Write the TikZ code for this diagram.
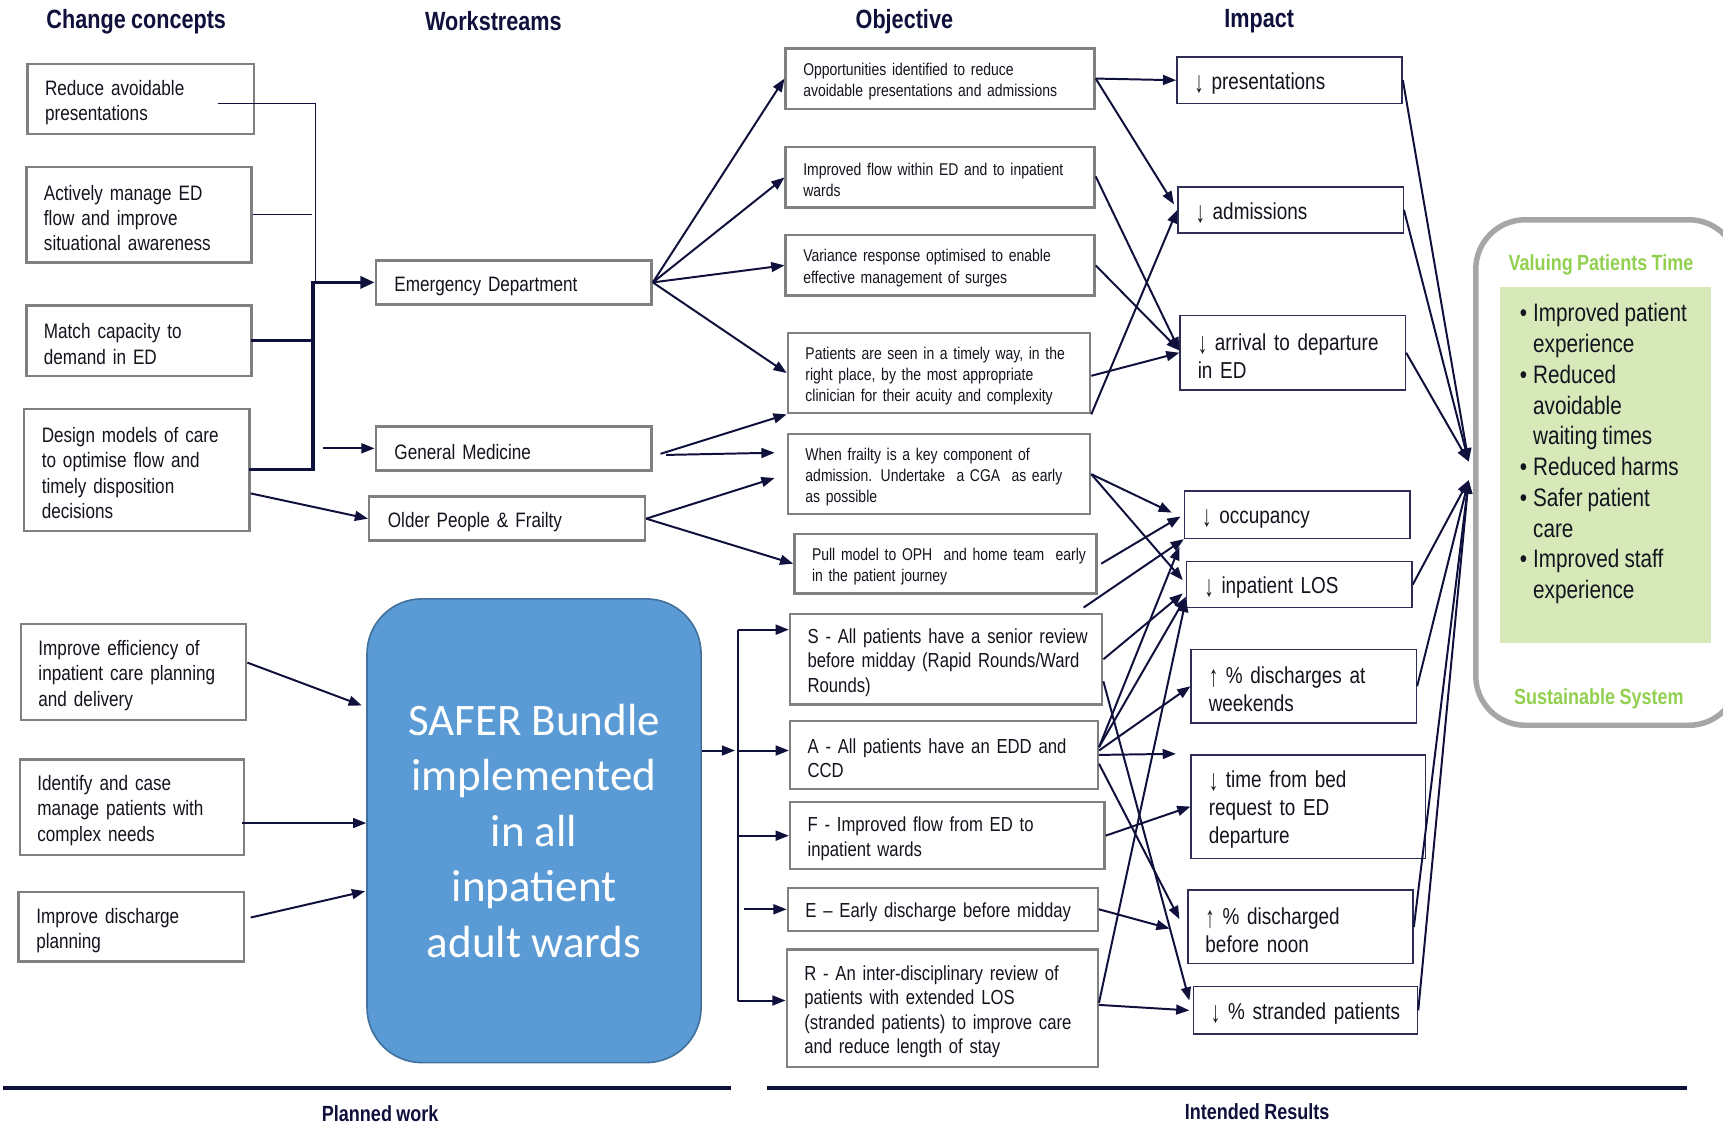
\documentclass[tikz,border=0pt]{standalone}
\usepackage{fontspec}
\usepackage{graphicx}
\setmainfont{Liberation Sans}[FakeStretch=0.82, WordSpace=0.88]
\newfontfamily\calfont{Carlito}
\usetikzlibrary{arrows.meta,calc}
\definecolor{navy}{RGB}{16,16,60}
\definecolor{boxgray}{RGB}{128,128,128}
\definecolor{impborder}{RGB}{45,45,85}
\definecolor{saferfill}{RGB}{91,155,213}
\definecolor{saferedge}{RGB}{65,113,156}
\definecolor{outgray}{RGB}{166,166,166}
\definecolor{greenfill}{RGB}{215,232,185}
\definecolor{greentext}{RGB}{146,208,80}
\definecolor{txt}{RGB}{20,20,30}
\newcommand\dnarr{\raisebox{-0.12em}{\scalebox{1}[1.3]{↓}}}
\newcommand\uparr{\raisebox{-0.12em}{\scalebox{1}[1.3]{↑}}}
\begin{document}
\begin{tikzpicture}[x=1pt,y=-1pt,
  cbox/.style={draw=boxgray, line width=2.2pt, align=left, inner xsep=16pt, inner ysep=0pt, text=txt, font=\fontsize{19}{23}\selectfont, execute at begin node={\rule{0pt}{1.05em}}},
  wbox/.style={cbox, inner xsep=17pt},
  obox/.style={cbox, font=\fontsize{15.5}{19.3}\selectfont},
  sbox/.style={cbox, font=\fontsize{18.5}{22.3}\selectfont},
  ibox/.style={draw=impborder, line width=1.3pt, align=left, inner xsep=16pt, inner ysep=0pt, text=txt, font=\fontsize{21}{25.5}\selectfont, execute at begin node={\rule{0pt}{1.0em}}},
  hdr/.style={font=\bfseries\fontsize{24}{28}\selectfont, text=navy, inner sep=0pt},
  ftr/.style={font=\bfseries\fontsize{20}{24}\selectfont, text=navy, inner sep=0pt},
  conn/.style={draw=navy, line width=1.8pt, -{Triangle[length=12pt,width=9pt]}},
  thinl/.style={draw=navy, line width=1pt},
  thickl/.style={draw=navy, line width=3pt, line cap=rect},
]
\useasboundingbox (0,0) rectangle (1568,1025);
\clip (0,0) rectangle (1568,1025);
\fill[white] (0,0) rectangle (1568,1025);

% headers
\node[hdr] (h1) at (124,19.5) {Change concepts};
\node[hdr] (h2) at (449,19.5) {Workstreams};
\node[hdr] (h3) at (823,19.5) {Objective};
\node[hdr] (h4) at (1146,19.5) {Impact};
\node[ftr] (f1) at (346,1013) {Planned work};
\node[ftr] (f2) at (1144,1012) {Intended Results};
\draw[line width=3pt, navy] (3,990) -- (665,990);
\draw[line width=3pt, navy] (698,990) -- (1535,990);

% change concepts
\node[cbox, text width=174pt, minimum height=64pt] (c1) at (128,90) {Reduce avoidable\\presentations};
\node[cbox, text width=173pt, minimum height=87pt] (c2) at (126.5,195.5) {Actively manage ED\\flow and improve\\situational awareness};
\node[cbox, text width=173pt, minimum height=64pt] (c3) at (126.5,310) {Match capacity to\\demand in ED};
\node[cbox, text width=173pt, minimum height=111pt] (c4) at (124.5,427.5) {Design models of care\\to optimise flow and\\timely disposition\\decisions};
\node[cbox, text width=173pt, minimum height=87pt] (c5) at (121.5,611.5) {Improve efficiency of\\inpatient care planning\\and delivery};
\node[cbox, text width=172pt, minimum height=87pt] (c6) at (120,734.5) {Identify and case\\manage patients with\\complex needs};
\node[cbox, text width=173pt, minimum height=63pt] (c7) at (119.5,843.5) {Improve discharge\\planning};

% workstreams
\node[wbox, text width=217pt, minimum height=40pt] (w1) at (467.5,257) {Emergency Department};
\node[wbox, text width=217pt, minimum height=40pt] (w2) at (467.5,408) {General Medicine};
\node[wbox, text width=217pt, minimum height=40pt] (w3) at (461.5,472) {Older People \& Frailty};
\node[draw=saferedge, fill=saferfill, line width=1.5pt, rounded corners=50pt, minimum width=304pt, minimum height=422pt, align=center, text=white, font=\calfont\fontsize{41}{50.5}\selectfont] (safer) at (486,756) {SAFER Bundle\\implemented\\in all\\inpatient\\adult wards};

% objectives
\node[obox, text width=249pt, minimum height=55pt] (o1) at (855.5,71.5) {\mbox{Opportunities identified to reduce}\\\mbox{avoidable presentations and admissions}};
\node[obox, text width=249pt, minimum height=55pt] (o2) at (855.5,161.5) {\mbox{Improved flow within ED and to inpatient}\\wards};
\node[obox, text width=249pt, minimum height=55pt] (o3) at (855.5,241.5) {\mbox{Variance response optimised to enable}\\\mbox{effective management of surges}};
\node[obox, text width=243pt, minimum height=73pt] (o4) at (854.5,339.5) {\mbox{Patients are seen in a timely way, in the}\\\mbox{right place, by the most appropriate}\\\mbox{clinician for their acuity and complexity}};
\node[obox, text width=243pt, minimum height=73pt] (o5) at (854.5,431.5) {\mbox{When frailty is a key component of}\\\mbox{admission. Undertake\ \ a CGA\ \ as early}\\as possible};
\node[obox, text width=243pt, minimum height=54pt] (o6) at (860.5,513) {\mbox{Pull model to OPH\ \ and home team\ \ early}\\\mbox{in the patient journey}};
\node[sbox, text width=252pt, minimum height=82pt] (S) at (861,600) {\mbox{S - All patients have a senior review}\\\mbox{before midday (Rapid Rounds/Ward}\\Rounds)};
\node[sbox, text width=248pt, minimum height=62pt] (A) at (859,687) {\mbox{A - All patients have an EDD and}\\CCD};
\node[sbox, text width=254pt, minimum height=61pt] (F) at (862,760.5) {\mbox{F - Improved flow from ED to}\\\mbox{inpatient wards}};
\node[sbox, text width=250pt, minimum height=39pt] (E) at (858,827.5) {\mbox{E – Early discharge before midday}};
\node[sbox, text width=251pt, minimum height=107pt] (R) at (857.5,917.5) {\mbox{R - An inter-disciplinary review of}\\\mbox{patients with extended LOS}\\\mbox{(stranded patients) to improve care}\\\mbox{and reduce length of stay}};

% impacts
\node[ibox, text width=173pt, minimum height=42pt] (i1) at (1173.5,73) {\dnarr\ presentations};
\node[ibox, text width=173pt, minimum height=42pt] (i2) at (1174.5,191) {\dnarr\ admissions};
\node[ibox, text width=173pt, minimum height=68pt] (i3) at (1176.5,321) {\mbox{\dnarr\ arrival to departure}\\in ED};
\node[ibox, text width=173pt, minimum height=43pt] (i4) at (1180.5,468.5) {\dnarr\ occupancy};
\node[ibox, text width=173pt, minimum height=42pt] (i5) at (1182.5,532) {\dnarr\ inpatient LOS};
\node[ibox, text width=173pt, minimum height=67pt] (i6) at (1186.5,624.5) {\mbox{\uparr\ \% discharges at}\\weekends};
\node[ibox, text width=181pt, minimum height=94pt] (i7) at (1190.5,734) {\dnarr\ time from bed\\request to ED\\departure};
\node[ibox, text width=173pt, minimum height=67pt] (i8) at (1183.5,843.5) {\uparr\ \% discharged\\before noon};
\node[ibox, text width=172pt, minimum height=43pt] (i9) at (1188,919.5) {\mbox{\dnarr\ \% stranded patients}};

% outcome
\node[draw=outgray, line width=5pt, rounded corners=45pt, minimum width=239pt, minimum height=460pt] (outbox) at (1462.5,430) {};
\node[fill=greenfill, minimum width=192pt, minimum height=324pt, inner sep=0pt] (gbox) at (1461,423) {};
\node[font=\bfseries\fontsize{20}{24}\selectfont, text=greentext, inner sep=0pt] (vpt) at (1457,241) {Valuing Patients Time};
\node[font=\bfseries\fontsize{20}{24}\selectfont, text=greentext, inner sep=0pt] (sus) at (1455,636) {Sustainable System};
\node[anchor=north west, align=left, inner sep=0pt, text=txt, font=\fontsize{23}{28}\selectfont] (vals) at (1383,276) {\makebox[12pt][l]{•}Improved patient\\\hspace*{12pt}experience\\\makebox[12pt][l]{•}Reduced\\\hspace*{12pt}avoidable\\\hspace*{12pt}waiting times\\\makebox[12pt][l]{•}Reduced harms\\\makebox[12pt][l]{•}Safer patient\\\hspace*{12pt}care\\\makebox[12pt][l]{•}Improved staff\\\hspace*{12pt}experience};

% left connectors
\coordinate (jED) at ([xshift=-56pt]w1.west);
\draw[thinl] ([xshift=-34pt,yshift=-4pt]c1.east) -| ([xshift=2pt]jED);
\draw[thinl] (c2.east) -- ([xshift=54pt]c2.east);
\draw[thickl] (c3.east) -| (jED);
\draw[thickl] (c4.east) -| (jED);
\draw[thickl, line cap=butt, -{Triangle[length=13pt,width=11pt]}] (jED) -- (w1.west);
\draw[conn] ([xshift=-47pt]w2.west) -- (w2.west);
\draw[conn] ([yshift=-21.5pt]c4.east) -- (w3.west);
\draw[conn] ([yshift=8.5pt]c5.east) -- ([xshift=-4pt,yshift=114pt]safer.west);
\draw[conn] ([xshift=-3pt,yshift=-14.5pt]c6.east) -- ([yshift=7pt]safer.west);
\draw[conn] ([xshift=5pt,yshift=8.5pt]c7.east) -- ([xshift=-1pt,yshift=-55pt]safer.west);

% workstreams -> objectives
\foreach \t in {o1,o2,o3,o4} \draw[conn] (w1.east) -- (\t.west);
\draw[conn] ([xshift=7pt,yshift=-5pt]w2.east) -- (o4.south west);
\draw[conn] ([xshift=12pt,yshift=-6pt]w2.east) -- ([xshift=-11pt,yshift=19.5pt]o5.west);
\draw[conn] (w3.east) -- ([xshift=-11pt,yshift=-3.5pt]o5.west);
\draw[conn] (w3.east) -- (o6.west);

% SAFER bracket
\coordinate (brS) at ([xshift=-46pt,yshift=27pt]S.west);
\coordinate (brR) at ([xshift=-43pt,yshift=7pt]R.west);
\coordinate (aT) at ([yshift=4pt]A.west);
\coordinate (brA) at (brS |- aT);
\coordinate (brF) at (brS |- F.west);
\draw[draw=navy, line width=1.8pt] (brS) -- (brR);
\draw[conn] ([yshift=73pt]safer.east) -- ([xshift=-3pt]brA);
\draw[conn] (brS) -- ([yshift=27pt]S.west);
\draw[conn] (brA) -- (aT);
\draw[conn] (brF) -- (F.west);
\draw[conn] ([xshift=-39pt]E.west) -- (E.west);
\draw[conn] (brR) -- ([yshift=7pt]R.west);

% objectives -> impacts
\draw[conn] (o1.east) -- (i1.west);
\draw[conn] (o1.east) -- ([xshift=-3pt,yshift=5pt]i2.west);
\draw[conn] ([yshift=1pt]o2.east) -- ([yshift=2pt]i3.west);
\draw[conn] (o3.east) -- ([yshift=2pt]i3.west);
\draw[conn] ([yshift=-2.5pt]o4.east) -- (i3.west);
\draw[conn] (o4.south east) -- (i2.west);
\draw[conn] (o5.east) -- ([xshift=-11pt,yshift=2pt]i4.west);
\draw[conn] (o5.east) -- ([xshift=-3pt,yshift=4pt]i5.west);
\draw[conn] ([xshift=3pt]o6.east) -- ([xshift=-3pt,yshift=-1.5pt]i4.west);
\draw[conn] ([xshift=-18pt,yshift=5pt]S.north east) -- (i4.south west);
\draw[conn] (S.east) -- ([xshift=-3pt,yshift=-8pt]i5.west);
\draw[conn] ([yshift=-20pt]S.east) -- ([xshift=-3pt,yshift=9pt]i9.west);
\draw[conn] ([yshift=7pt]A.east) -- ([xshift=-4pt,yshift=-7pt]i4.south west);
\draw[conn] ([yshift=7pt]A.east) -- ([yshift=-11pt]i5.west);
\draw[conn] ([yshift=4pt]A.east) -- (i6.west);
\coordinate (aFree) at ([xshift=70pt,yshift=1pt]A.east);
\draw[conn] (A.east) -- (aFree);
\draw[conn] ([yshift=-8pt]A.east) -- ([xshift=-7pt,yshift=7pt]i8.west);
\draw[conn] (F.east) -- (i7.west);
\draw[conn] (E.east) -- ([xshift=-16pt,yshift=-1.5pt]i8.west);
\draw[conn] ([yshift=5pt]R.east) -- ([yshift=-13pt]i5.west);
\draw[conn] ([yshift=3pt]R.east) -- ([xshift=-3pt]i9.west);

% impacts -> outcome
\coordinate (tU) at ([xshift=-4pt,yshift=10pt]outbox.west);
\coordinate (tL) at ([xshift=-4pt,yshift=-7pt]outbox.west);
\foreach \s in {i1,i2,i3} \draw[conn] (\s.east) -- (tU);
\foreach \s in {i5,i6,i8,i9} \draw[conn] (\s.east) -- (tL);
\end{tikzpicture}
\end{document}
